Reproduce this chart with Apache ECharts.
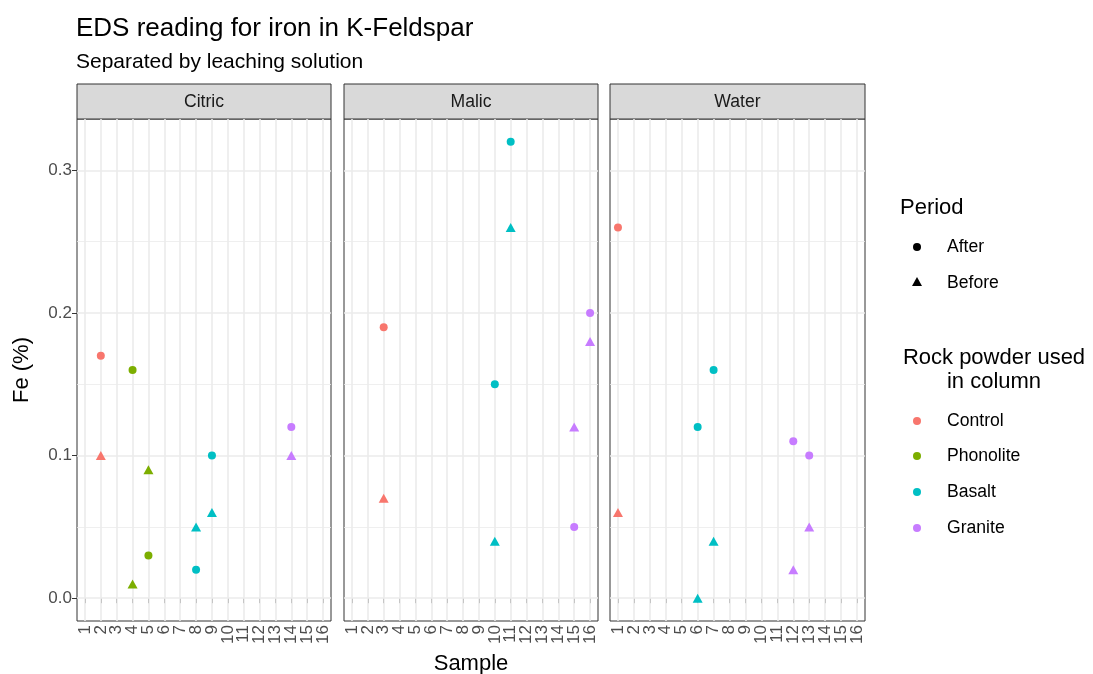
<!DOCTYPE html>
<html>
<head>
<meta charset="utf-8">
<script src="https://cdn.jsdelivr.net/npm/echarts@6/dist/echarts.min.js"></script>
<style>
  html, body { margin: 0; padding: 0; background: #fff; }
  #chart { width: 1093px; height: 674px; }
</style>
</head>
<body>
<div id="chart"></div>
<script>
// facets and colour scale
const facets = ['Citric', 'Malic', 'Water'];
const rocks = ['Control', 'Phonolite', 'Basalt', 'Granite'];
const rockColors = ['#F8766D', '#7CAE00', '#00BFC4', '#C77CFF'];
const sampleTicks = ['1', '2', '3', '4', '5', '6', '7', '8', '9', '10', '11', '12', '13', '14', '15', '16'];
const feTicks = [0, 0.1, 0.2, 0.3];
const feMinor = [0.05, 0.15, 0.25];

// Citric
const citricSample = [2, 2, 4, 5, 5, 4, 9, 9, 8, 8, 14, 14];
const citricFe = [0.17, 0.10, 0.16, 0.09, 0.03, 0.01, 0.10, 0.06, 0.05, 0.02, 0.12, 0.10];
const citricRock = ['Control', 'Control', 'Phonolite', 'Phonolite', 'Phonolite', 'Phonolite', 'Basalt', 'Basalt', 'Basalt', 'Basalt', 'Granite', 'Granite'];
const citricPeriod = ['After', 'Before', 'After', 'Before', 'After', 'Before', 'After', 'Before', 'Before', 'After', 'After', 'Before'];

// Malic
const malicSample = [3, 3, 11, 11, 10, 10, 16, 16, 15, 15];
const malicFe = [0.19, 0.07, 0.32, 0.26, 0.15, 0.04, 0.20, 0.18, 0.12, 0.05];
const malicRock = ['Control', 'Control', 'Basalt', 'Basalt', 'Basalt', 'Basalt', 'Granite', 'Granite', 'Granite', 'Granite'];
const malicPeriod = ['After', 'Before', 'After', 'Before', 'After', 'Before', 'After', 'Before', 'Before', 'After'];

// Water
const waterSample = [1, 1, 7, 6, 7, 6, 12, 13, 13, 12];
const waterFe = [0.26, 0.06, 0.16, 0.12, 0.04, 0.00, 0.11, 0.10, 0.05, 0.02];
const waterRock = ['Control', 'Control', 'Basalt', 'Basalt', 'Basalt', 'Basalt', 'Granite', 'Granite', 'Granite', 'Granite'];
const waterPeriod = ['After', 'Before', 'After', 'After', 'Before', 'Before', 'After', 'After', 'Before', 'Before'];

const facetData = [
  [citricSample, citricFe, citricRock, citricPeriod],
  [malicSample, malicFe, malicRock, malicPeriod],
  [waterSample, waterFe, waterRock, waterPeriod]
];

const FONT = '"Liberation Sans", Arial, sans-serif';
const panelLeft = [77, 344, 610];
const panelWidth = [254, 254, 255];
const panelTop = 119;
const panelHeight = 502;

var myChart = echarts.init(document.getElementById('chart'), null, { renderer: 'canvas' });

var grids = [], xAxes = [], yAxes = [], series = [], graphics = [];

facets.forEach(function (name, i) {
  grids.push({
    left: panelLeft[i], top: panelTop, width: panelWidth[i], height: panelHeight,
    outerBoundsMode: 'none', containLabel: false,
    show: true, backgroundColor: '#fff', borderColor: '#333333', borderWidth: 1
  });
  xAxes.push({
    type: 'category', gridIndex: i, data: sampleTicks, boundaryGap: true,
    axisLine: { show: false },
    splitLine: { show: false },
    axisTick: { show: true, interval: 0, alignWithLabel: true, length: 5, lineStyle: { color: '#333333', width: 1 } },
    axisLabel: {
      interval: 0, rotate: 90, margin: 4, color: '#4D4D4D',
      fontFamily: FONT, fontSize: 17
    },
    name: i === 1 ? 'Sample' : '',
    nameLocation: 'middle', nameGap: 32,
    nameTextStyle: { color: '#000', fontFamily: FONT, fontSize: 22 }
  });
  yAxes.push({
    type: 'value', gridIndex: i, min: -0.016, max: 0.336,
    axisLine: { show: false },
    splitLine: { show: false },
    axisTick: { show: i === 0, customValues: feTicks, length: 5, lineStyle: { color: '#333333', width: 1 } },
    axisLabel: {
      show: i === 0, customValues: feTicks, margin: 5, color: '#4D4D4D',
      fontFamily: FONT, fontSize: 17, showMinLabel: true, showMaxLabel: true,
      formatter: function (v) { return v.toFixed(1); }
    },
    name: i === 0 ? 'Fe (%)' : '',
    nameLocation: 'middle', nameGap: 44, nameRotate: 90,
    nameTextStyle: { color: '#000', fontFamily: FONT, fontSize: 22 }
  });

  // panel gridlines (ggplot theme_bw)
  var lines = [];
  feTicks.forEach(function (v) { lines.push({ yAxis: v, lineStyle: { width: 1.6 } }); });
  feMinor.forEach(function (v) { lines.push({ yAxis: v, lineStyle: { width: 0.8 } }); });
  sampleTicks.forEach(function (v) { lines.push({ xAxis: v, lineStyle: { width: 1.6 } }); });
  series.push({
    type: 'scatter', xAxisIndex: i, yAxisIndex: i, data: [], silent: true,
    markLine: {
      silent: true, z: 1, symbol: ['none', 'none'], animation: false,
      label: { show: false },
      lineStyle: { type: 'solid', color: '#EBEBEB' },
      data: lines
    }
  });

  // points, one series per period
  var d = facetData[i];
  ['After', 'Before'].forEach(function (period) {
    var pts = [];
    d[0].forEach(function (s, k) {
      if (d[3][k] !== period) return;
      pts.push({ value: [String(s), d[1][k]], itemStyle: { color: rockColors[rocks.indexOf(d[2][k])] } });
    });
    series.push({
      name: name + ' ' + period,
      type: 'scatter', xAxisIndex: i, yAxisIndex: i, z: 3,
      symbol: period === 'After' ? 'circle' : 'triangle',
      symbolSize: period === 'After' ? 8 : [10, 9],
      itemStyle: { opacity: 1 },
      data: pts
    });
  });

  // facet strip
  graphics.push({
    type: 'rect', shape: { x: panelLeft[i], y: 84, width: panelWidth[i], height: 35 },
    style: { fill: '#D9D9D9', stroke: '#333333', lineWidth: 1 }
  });
  graphics.push({
    type: 'text', x: panelLeft[i] + panelWidth[i] / 2, y: 102,
    style: { text: name, fill: '#1A1A1A', font: '17.6px ' + FONT, textAlign: 'center', textVerticalAlign: 'middle', align: 'center', verticalAlign: 'middle' }
  });
});

// legends
function legendText(t, x, y, size, align) {
  return {
    type: 'text', x: x, y: y,
    style: { text: t, fill: '#000', font: size + 'px ' + FONT, textAlign: align || 'left', textVerticalAlign: 'middle', align: align || 'left', verticalAlign: 'middle' }
  };
}
graphics.push(legendText('Period', 900, 208, 22));
graphics.push({ type: 'circle', shape: { cx: 917, cy: 247, r: 4 }, style: { fill: '#000' } });
graphics.push(legendText('After', 947, 247, 17.6));
graphics.push({ type: 'polygon', shape: { points: [[917, 277], [922, 286], [912, 286]] }, style: { fill: '#000' } });
graphics.push(legendText('Before', 947, 283, 17.6));
graphics.push(legendText('Rock powder used', 994, 358, 22, 'center'));
graphics.push(legendText('in column', 994, 382, 22, 'center'));
var legendY = [421, 456, 492, 528];
rocks.forEach(function (r, k) {
  graphics.push({ type: 'circle', shape: { cx: 917, cy: legendY[k], r: 4 }, style: { fill: rockColors[k] } });
  graphics.push(legendText(r, 947, legendY[k], 17.6));
});

const option = {
  backgroundColor: '#fff',
  animation: false,
  title: {
    left: 71, top: 11, itemGap: 10,
    text: 'EDS reading for iron in K-Feldspar',
    subtext: 'Separated by leaching solution',
    textStyle: { color: '#000', fontFamily: FONT, fontSize: 26, fontWeight: 'normal' },
    subtextStyle: { color: '#000', fontFamily: FONT, fontSize: 21 }
  },
  grid: grids,
  xAxis: xAxes,
  yAxis: yAxes,
  series: series,
  graphic: { elements: graphics }
};

myChart.setOption(option);
</script>
</body>
</html>
